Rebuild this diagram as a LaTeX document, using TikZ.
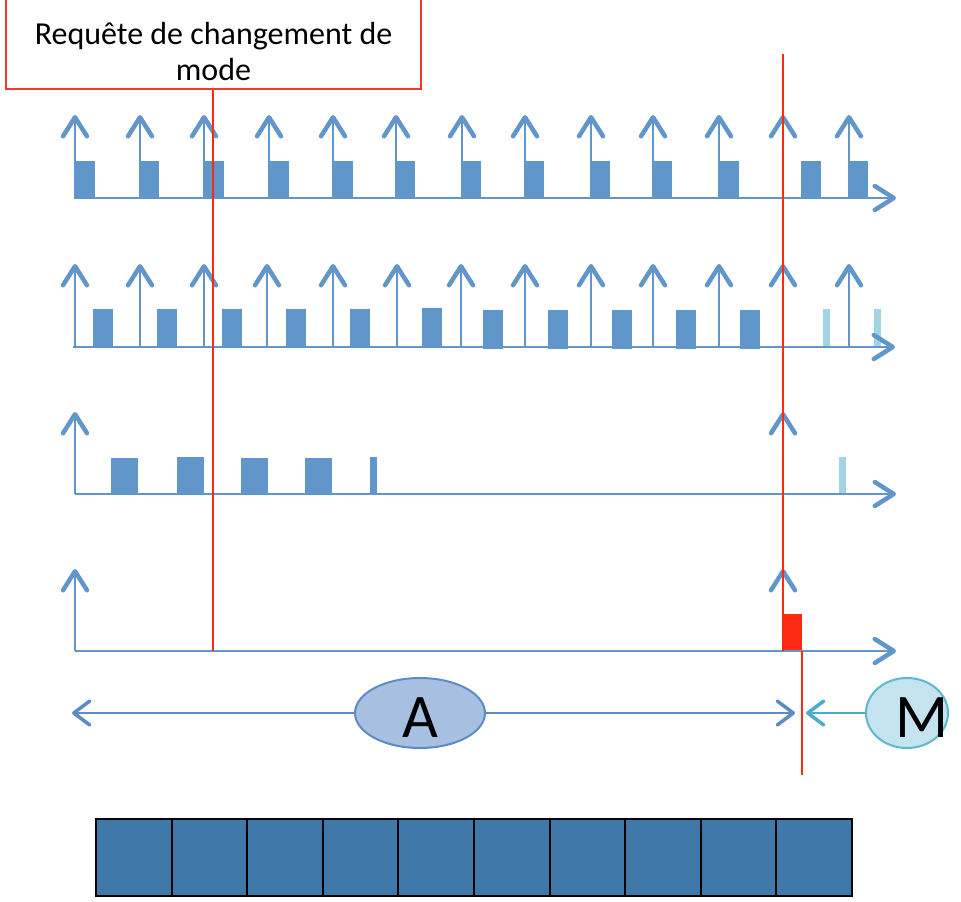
\documentclass[tikz,border=0pt]{standalone}
\usepackage{fontspec}
\newfontfamily\carlito{Carlito}
\usetikzlibrary{arrows.meta,shapes.geometric}

\definecolor{bl}{HTML}{6096CA}
\definecolor{blight}{HTML}{A3D4E3}
\definecolor{redline}{HTML}{FF2A14}
\definecolor{redbox}{HTML}{EE3B2E}
\definecolor{afill}{HTML}{A7C0E1}
\definecolor{aedge}{HTML}{5B8CC8}
\definecolor{mfill}{HTML}{C3E4EE}
\definecolor{medge}{HTML}{5BB8D0}
\definecolor{mline}{HTML}{4BACC6}
\definecolor{cell}{HTML}{3F78A9}

\tikzset{
  chevron/.style={-{Straight Barb[length=19pt,width=24pt,line width=4.5pt,round]}},
  release/.style={draw=bl, line width=2pt, chevron},
  axisline/.style={draw=bl, line width=2pt, chevron},
  job/.style={fill=bl},
  pending/.style={fill=blight},
  marker/.style={draw=redline, line width=1.8pt},
  span/.style={line width=2pt, {Straight Barb[length=16pt,width=24pt,line width=3.5pt,round]}-},
  bigletter/.style={font=\carlito\fontsize{62}{66}\selectfont, inner sep=0pt},
}

\begin{document}
\begin{tikzpicture}[x=1pt,y=-1pt]
\useasboundingbox (0,0) rectangle (961,902);

% ---- task 1 -------------------------------------------------------
\foreach \x in {75,139,204,269,333,395,461,524,590,652,719,801,848}
  \fill[job] (\x,161) rectangle ++(20,38);
\foreach \x in {75,140,204,269,333,396,462,525,591,653,719,783,849}
  \draw[release] (\x,198) -- (\x,115);
\coordinate (o1) at (74,198);
\coordinate (e1) at (896,198);
\draw[axisline] (o1) -- (e1);

% ---- task 2 -------------------------------------------------------
\foreach \x/\t/\b in {93/309/348,157/309/348,222/309/348,286/309/348,350/309/348,
                      422/308/348,483/310/349,548/310/349,612/310/349,676/310/349,740/310/349}
  \fill[job] (\x,\t) rectangle (\x+20,\b);
\fill[pending] (823,309) rectangle (830,348);
\fill[pending] (874,309) rectangle (881,348);
\foreach \x in {75,140,204,267,333,397,461,525,591,653,719,783,849}
  \draw[release] (\x,347) -- (\x,264);
\coordinate (o2) at (73,347);
\coordinate (e2) at (895,347);
\draw[axisline] (o2) -- (e2);

% ---- task 3 -------------------------------------------------------
\foreach \x/\t in {111/458,177/457,241/458,305/458}
  \fill[job] (\x,\t) rectangle (\x+27,495);
\fill[job] (370,457) rectangle (377,495);
\fill[pending] (839,457) rectangle (846,494);
\draw[release] (75,494) -- (75,412);
\draw[release] (783,494) -- (783,412);
\coordinate (o3) at (75,494);
\coordinate (e3) at (896,494);
\draw[axisline] (o3) -- (e3);

% ---- task 4 -------------------------------------------------------
\fill[redline] (783,614) rectangle (802,652);
\draw[release] (75,651) -- (75,569);
\draw[release] (783,651) -- (783,569);
\coordinate (o4) at (75,651);
\coordinate (e4) at (896,651);
\draw[axisline] (o4) -- (e4);

% ---- mode change request -----------------------------------------
\node[draw=redbox, line width=2pt, fill=white, minimum width=415pt, minimum height=90pt,
      inner sep=0pt] (req) at (213.5,44) {};
\node[align=center, inner sep=0pt, font=\carlito\fontsize{32}{36}\selectfont]
  (reqtext) at (213.5,51) {Requête de changement de\\mode};
\coordinate (reqend) at (213,651);
\draw[marker] (req.south -| reqend) -- (reqend);

% ---- mode switch instant -----------------------------------------
\coordinate (swtop) at (783,54);
\coordinate (swbot) at (783,651);
\draw[marker] (swtop) -- (swbot);
\coordinate (endtop) at (802,651);
\coordinate (endbot) at (802,775);
\draw[marker] (endtop) -- (endbot);

% ---- modes A and M -------------------------------------------------
\node[ellipse, draw=aedge, fill=afill, line width=2pt, minimum width=130pt,
      minimum height=70pt, inner sep=0pt] (A) at (420,713) {};
\node[bigletter] (Alabel) at (420,718) {A};
\coordinate (aleft) at (72,713);
\coordinate (aright) at (795,713);
\draw[span, draw=aedge] (aleft) -- (A.west);
\draw[span, draw=aedge] (aright) -- (A.east);

\node[ellipse, draw=medge, fill=mfill, line width=2pt, minimum width=82pt,
      minimum height=70pt, inner sep=0pt] (M) at (907,713) {};
\node[bigletter] (Mlabel) at (922,718) {M};
\coordinate (mtip) at (806,713);
\draw[span, draw=mline] (mtip) -- (M.west);

% ---- schedule table -----------------------------------------------
\foreach \i in {0,...,9}
  \node[draw=black, fill=cell, line width=2pt, minimum width=75.6pt, minimum height=77pt,
        inner sep=0pt, anchor=north west] (c\i) at (95+75.6*\i,818) {};
\end{tikzpicture}
\end{document}
